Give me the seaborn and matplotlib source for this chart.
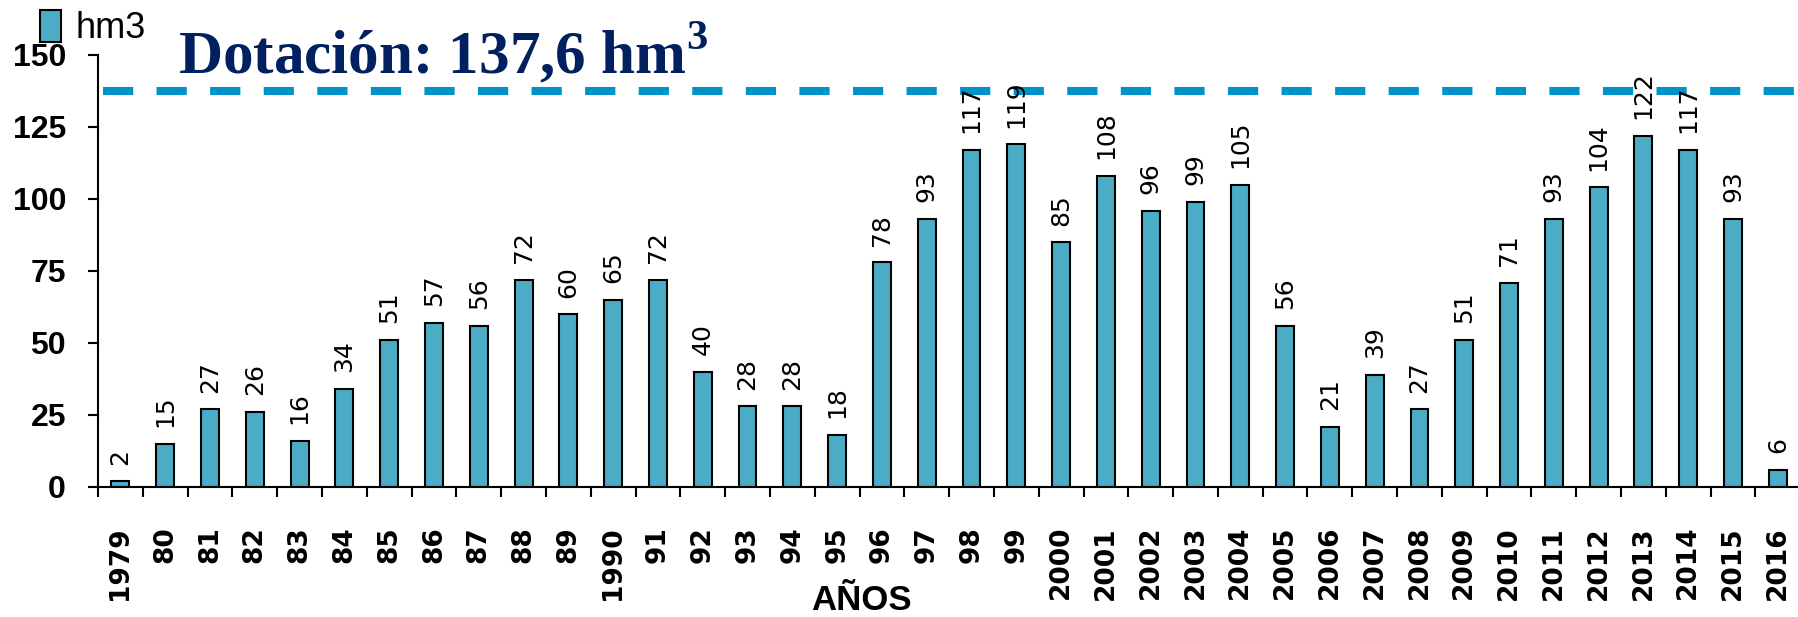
import numpy as np
import pandas as pd
import matplotlib
matplotlib.use('Agg')
import matplotlib.pyplot as plt
import seaborn as sns
from matplotlib.patches import Patch
from matplotlib.ticker import MultipleLocator, FixedLocator

# Yearly volumes (hm3)
years = ['1979', '80', '81', '82', '83', '84', '85', '86', '87', '88', '89',
         '1990', '91', '92', '93', '94', '95', '96', '97', '98', '99',
         '2000', '2001', '2002', '2003', '2004', '2005', '2006', '2007',
         '2008', '2009', '2010', '2011', '2012', '2013', '2014', '2015', '2016']
volumes = [2, 15, 27, 26, 16, 34, 51, 57, 56, 72, 60,
           65, 72, 40, 28, 28, 18, 78, 93, 117, 119,
           85, 108, 96, 99, 105, 56, 21, 39,
           27, 51, 71, 93, 104, 122, 117, 93, 6]
dotacion = 137.6

df = pd.DataFrame({'Año': years, 'hm3': volumes})

bar_color = '#4BACC6'
line_color = '#0093C9'
title_color = '#002060'

sns.set_style('white')
plt.rcParams['font.family'] = ['DejaVu Sans']
plt.rcParams['text.color'] = 'black'
plt.rcParams['xtick.color'] = 'black'
plt.rcParams['ytick.color'] = 'black'
plt.rcParams['axes.labelcolor'] = 'black'

fig = plt.figure(figsize=(17.98, 6.17), dpi=100)
ax = fig.add_axes([0.0545, 0.2107, 0.9455, 0.7002])

sns.barplot(data=df, x='Año', y='hm3', color=bar_color, saturation=1,
            width=0.4, edgecolor='black', linewidth=1.5, ax=ax)

ax.set_xlim(-0.5, 37.45)
ax.set_ylim(0, 150)
ax.yaxis.set_major_locator(MultipleLocator(25))

# allocation line
ax.axhline(dotacion, xmin=0.003, color=line_color, lw=5.8,
           ls=(0, (3.75, 2.9)), solid_capstyle='butt', dash_capstyle='butt')

# value labels on top of bars
for c in ax.containers:
    ax.bar_label(c, labels=[str(v) for v in volumes], rotation=90,
                 padding=12, fontsize=18)

# spines
for s in ['top', 'right']:
    ax.spines[s].set_visible(False)
for s in ['left', 'bottom']:
    ax.spines[s].set_color('black')
    ax.spines[s].set_linewidth(1.5)

# x ticks: labels at bar centres, marks between categories
ax.set_xticks(range(len(years)))
ax.set_xticklabels(years, rotation=90, fontsize=19, fontweight='bold')
ax.xaxis.set_minor_locator(FixedLocator(np.arange(-0.5, len(years), 1)))
ax.tick_params(axis='x', which='major', length=0, pad=28)
ax.tick_params(axis='x', which='minor', length=7, width=1.5,
               direction='out', color='black', bottom=True)

ax.tick_params(axis='y', length=7, width=1.5, direction='out',
               color='black', left=True, pad=16)
for lab in ax.get_yticklabels():
    lab.set_family(['Liberation Sans Narrow', 'Liberation Sans'])
    lab.set_fontweight('bold')
    lab.set_fontsize(23)

ax.set_xlabel('')
ax.set_ylabel('')

fig.text(0.479, 0.0113, 'AÑOS', ha='center', va='baseline', fontsize=25,
         fontweight='bold', family=['Liberation Sans Narrow', 'Liberation Sans'])

fig.text(0.099, 0.8817, r'Dotación: 137,6 hm$^{\mathregular{3}}$',
         ha='left', va='baseline',
         fontsize=44, fontweight='bold', color=title_color,
         family=['Liberation Serif', 'DejaVu Serif'])

fig.legend(handles=[Patch(facecolor=bar_color, edgecolor='black', lw=1.5,
                          label='hm3')],
           loc='upper left', bbox_to_anchor=(0.02, 0.99), frameon=False,
           handlelength=0.6, handleheight=1.0, handletextpad=0.4,
           borderpad=0.1, borderaxespad=0, labelcolor='black',
           prop={'family': ['Liberation Sans', 'DejaVu Sans'], 'size': 26})

fig.savefig('out.png', dpi=100)
